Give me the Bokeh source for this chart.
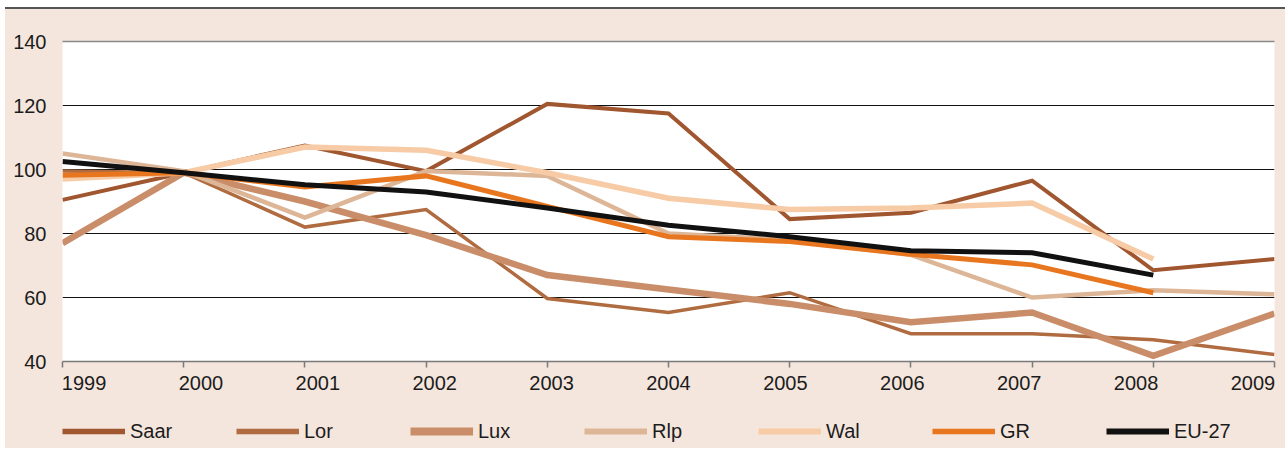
import numpy as np
from bokeh.plotting import figure
from bokeh.layouts import column
from bokeh.models import (Range1d, LinearAxis, FixedTicker, CustomJSTickFormatter,
                          Legend, LegendItem, Grid)
from bokeh.embed import file_html
from bokeh.resources import INLINE

years = [1999, 2000, 2001, 2002, 2003, 2004, 2005, 2006, 2007, 2008, 2009]
saar = [90.5, 99, 107.5, 99.5, 120.5, 117.5, 84.5, 86.5, 96.5, 68.5, 72]
lor = [99.5, 99, 82, 87.5, 59.7, 55.3, 61.5, 48.7, 48.7, 46.8, 42.2]
lux = [77, 99, 90, 79.5, 67, 62.5, 58, 52.3, 55.3, 41.8, 55]
rlp = [105, 99.5, 85, 99.5, 98, 80, 78, 73.3, 60, 62.3, 61]
wal = [97, 99, 107, 106, 99, 91, 87.5, 88, 89.5, 72, None]
gr = [98.2, 99, 94.5, 98, 88.5, 79, 77.5, 73.5, 70.2, 61.5, None]
eu27 = [102.5, 99, 95.2, 93, 88, 82.6, 79, 74.6, 74, 67, None]
y_ticks = [40, 60, 80, 100, 120, 140]
grid_ticks = [60, 80, 100, 120]

# name, values, colour, chart line width, legend line width
series = [
    ("Saar", saar, "#A0562F", 4, 5.5),
    ("Lor", lor, "#B06C40", 3.5, 5.5),
    ("Lux", lux, "#C98E69", 6.5, 8),
    ("Rlp", rlp, "#DDB697", 4.5, 6),
    ("Wal", wal, "#F6CBA6", 5.5, 6),
    ("GR", gr, "#E8761F", 5, 5.5),
    ("EU-27", eu27, "#111111", 5, 6),
]

BEIGE = "#F4E6DC"
FONT = "Liberation Sans"
FSIZE = "20px"
TXT = "#1c1c1c"

p = figure(width=1280, height=392, output_backend="svg", toolbar_location=None,
           x_range=Range1d(1999, 2009), y_range=Range1d(40, 140),
           min_border_left=57, min_border_right=11, min_border_top=32,
           min_border_bottom=40, border_fill_color=BEIGE,
           background_fill_color="white", outline_line_color=None,
           x_axis_type=None, y_axis_type=None,
           styles={"border-top": "2px solid #555"})

yaxis = LinearAxis(ticker=FixedTicker(ticks=y_ticks))
yaxis.axis_line_color = None
yaxis.major_tick_line_color = None
yaxis.minor_tick_line_color = None
yaxis.major_tick_out = 0
yaxis.major_label_standoff = 16
yaxis.major_label_text_font = FONT
yaxis.major_label_text_font_size = FSIZE
yaxis.major_label_text_color = TXT
p.add_layout(yaxis, "left")

p.add_layout(Grid(dimension=1, ticker=FixedTicker(ticks=grid_ticks),
                  grid_line_color="#111111", grid_line_width=1))

# top boundary line of the plot area
top = LinearAxis(ticker=FixedTicker(ticks=[]), formatter=CustomJSTickFormatter(code="return ''"))
top.axis_line_color = "#8a8a8a"
top.axis_line_width = 1.5
top.major_tick_line_color = None
top.minor_tick_line_color = None
top.major_label_text_font_size = "0px"
top.major_label_standoff = 0
p.add_layout(top, "above")

# bottom axis with tick marks
xaxis = LinearAxis(ticker=FixedTicker(ticks=years), formatter=CustomJSTickFormatter(code="return ''"))
xaxis.axis_line_color = "#7a7a7a"
xaxis.axis_line_width = 1.5
xaxis.major_tick_line_color = "#7a7a7a"
xaxis.major_tick_line_width = 1.5
xaxis.major_tick_out = 6
xaxis.major_tick_in = 0
xaxis.minor_tick_line_color = None
xaxis.major_label_text_font_size = "0px"
xaxis.major_label_standoff = 0
p.add_layout(xaxis, "below")

# year labels, spread evenly between the plot edges
inset = 0.178
label_pos = list(np.linspace(years[0] + inset, years[-1] - inset, len(years)))
xlab = LinearAxis(ticker=FixedTicker(ticks=label_pos),
                  formatter=CustomJSTickFormatter(code="return String(Math.round(tick));"))
xlab.axis_line_color = None
xlab.major_tick_line_color = None
xlab.minor_tick_line_color = None
xlab.major_tick_out = 0
xlab.major_tick_in = 0
xlab.major_label_standoff = 8
xlab.major_label_text_font = FONT
xlab.major_label_text_font_size = FSIZE
xlab.major_label_text_color = TXT
p.add_layout(xlab, "below")

for name, vals, color, w, lw in series:
    ys = [np.nan if v is None else v for v in vals]
    p.line(years, ys, line_color=color, line_width=w, line_join="miter")

# legend strip below the chart (its lines lie outside its own ranges)
pl = figure(width=1280, height=49, output_backend="svg", toolbar_location=None,
            x_range=Range1d(0, 1), y_range=Range1d(0, 1),
            min_border_left=0, min_border_right=0, min_border_top=0, min_border_bottom=0,
            border_fill_color=BEIGE, background_fill_color=BEIGE,
            outline_line_color=None, x_axis_type=None, y_axis_type=None)
pl.xgrid.visible = False
pl.ygrid.visible = False
items = []
for name, vals, color, w, lw in series:
    ys = [np.nan if v is None else v for v in vals]
    r = pl.line(years, ys, line_color=color, line_width=lw)
    items.append(LegendItem(label=name, renderers=[r]))

lg = Legend(items=items, location=(0, 5), orientation="horizontal")
lg.glyph_width = 63
lg.glyph_height = 24
lg.label_height = 24
lg.label_width = 60
lg.label_standoff = 5
lg.spacing = 46
lg.padding = 0
lg.margin = 0
lg.border_line_color = None
lg.background_fill_alpha = 0
lg.label_text_font = FONT
lg.label_text_font_size = FSIZE
lg.label_text_color = TXT
pl.add_layout(lg, "center")

layout = column(p, pl, spacing=0,
                styles={"margin-left": "5px", "margin-top": "7px",
                        "background-color": BEIGE})

open("out.html", "w").write(file_html(layout, INLINE))
